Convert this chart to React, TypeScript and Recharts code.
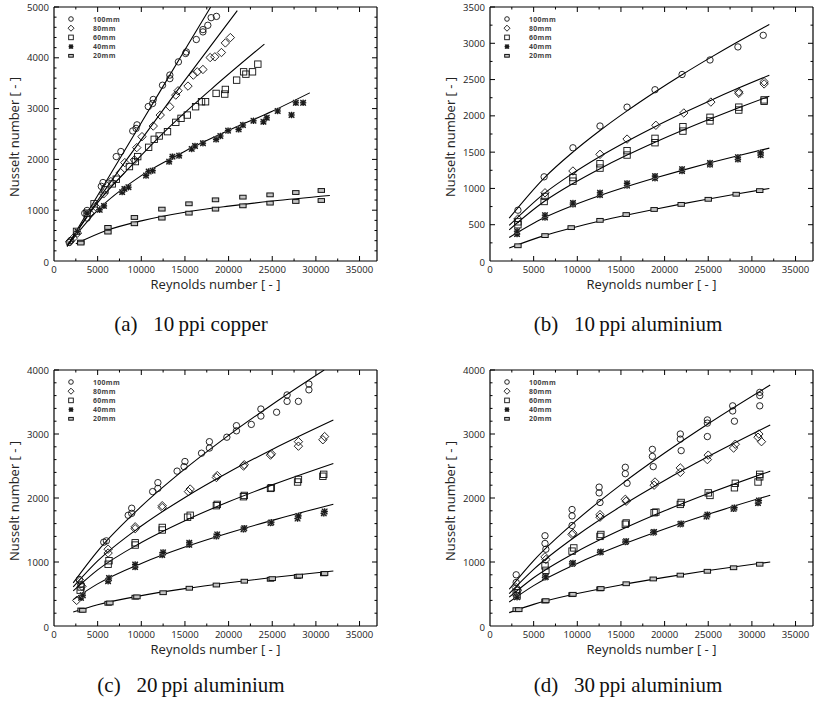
import React from 'react';
import { ComposedChart, Scatter, Line, XAxis, YAxis, Legend } from 'recharts';

type P = [number, number];

// ---------- shared ----------
const seriesNames = ['100mm', '80mm', '60mm', '40mm', '20mm'];
const markerKinds = ['circle', 'diamond', 'square', 'cross', 'rect'];
const captions = ['(a)\u2002 10\u2009ppi copper', '(b)\u2002 10\u2009ppi aluminium', '(c)\u2002 20\u2009ppi aluminium', '(d)\u2002 30\u2009ppi aluminium'];
const xTitle = 'Reynolds number [ - ]';
const yTitle = 'Nusselt number [ - ]';
const xMajorTicks = [0, 5000, 10000, 15000, 20000, 25000, 30000, 35000];
const xAllTicks = [0, 2500, 5000, 7500, 10000, 12500, 15000, 17500, 20000, 22500, 25000, 27500, 30000, 32500, 35000];

// ---------- (a) 10 ppi copper ----------
const a100: P[] = [[1740,365],[1930,405],[3520,940],[3790,995],[3790,845],[5420,1470],[5610,1545],[7130,2055],[7660,2155],[9020,2560],[9400,2610],[9510,2680],[10800,3040],[11290,3100],[11370,3180],[12430,3460],[13270,3590],[13270,3660],[14250,3920],[15080,4085],[15160,4115],[16300,4360],[17060,4510],[17060,4555],[17620,4640],[18000,4790],[18610,4815]];
const a80: P[] = [[1820,386],[2200,450],[2690,550],[4090,942],[4740,1073],[5690,1322],[6520,1564],[7620,1741],[8110,1937],[9210,1990],[9480,2232],[10080,2448],[11370,2657],[12170,2873],[13270,3037],[13950,3266],[14210,3351],[15350,3443],[15960,3659],[16410,3724],[17060,3770],[17890,4005],[18420,4019],[19180,4104],[19630,4293],[20200,4398]];
const a60: P[] = [[2580,583],[3790,942],[4590,1126],[5840,1401],[6670,1518],[7130,1610],[8640,1859],[9320,1957],[9590,2055],[10840,2238],[11480,2395],[12050,2461],[13000,2546],[13950,2729],[14550,2808],[15270,2873],[16220,3037],[16900,3135],[17360,3135],[18570,3299],[19560,3286],[19630,3377],[20920,3560],[21720,3724],[21980,3678],[22740,3724],[23350,3875]];
const a40: P[] = [[2690,583],[3790,942],[5230,1008],[5720,1086],[7810,1355],[8070,1420],[8530,1453],[10540,1682],[10840,1761],[11290,1780],[13190,1957],[13570,2055],[14330,2075],[15770,2206],[16150,2265],[17060,2317],[18570,2395],[19060,2461],[19940,2566],[21150,2592],[21640,2677],[22850,2762],[23990,2742],[24370,2821],[25620,2952],[27210,2873],[27700,3115],[28540,3115]];
const a20: P[] = [[3070,373],[3070,353],[6180,661],[6180,569],[9210,857],[9210,733],[12360,1021],[12360,844],[15460,1126],[15460,942],[18500,1204],[18500,1021],[21640,1257],[21640,1086],[24750,1302],[24750,1139],[27700,1348],[27700,1172],[30620,1388],[30620,1191]];
const a100fit: P[] = [[1500,290],[5000,1290],[10000,2720],[15000,4160],[17950,5000]];
const a80fit: P[] = [[1500,290],[5000,1190],[10000,2390],[15000,3560],[21000,4930]];
const a60fit: P[] = [[1500,290],[5000,1150],[9000,1900],[13000,2600],[18000,3380],[24100,4270]];
const a40fit: P[] = [[1500,290],[5000,1000],[10000,1680],[15000,2160],[20000,2570],[25000,2950],[29300,3310]];
const a20fit: P[] = [[2500,340],[6000,600],[10000,790],[15000,960],[20000,1080],[25000,1180],[31600,1290]];

// ---------- (b) 10 ppi aluminium ----------
const b100: P[] = [[3200,700],[6200,1160],[9500,1560],[12600,1860],[15700,2120],[18900,2360],[22000,2570],[25200,2770],[28400,2950],[31300,3110]];
const b80: P[] = [[3200,580],[6300,940],[9500,1240],[12600,1470],[15700,1680],[19000,1870],[22200,2040],[25300,2190],[28500,2310],[28500,2330],[31400,2440],[31400,2470]];
const b60: P[] = [[3200,500],[3200,540],[6200,820],[6300,890],[9500,1100],[9500,1150],[12600,1280],[12600,1340],[15700,1460],[15700,1520],[18900,1630],[18900,1690],[22100,1790],[22100,1850],[25200,1930],[25200,1980],[28500,2080],[28500,2120],[31400,2200],[31400,2220]];
const b40: P[] = [[3100,370],[3100,410],[6300,600],[6300,630],[9500,780],[9500,800],[12600,910],[12600,940],[15700,1040],[15700,1070],[18900,1140],[18900,1170],[22000,1240],[22000,1265],[25200,1330],[25200,1350],[28400,1400],[28400,1430],[31000,1460],[31000,1490]];
const b20: P[] = [[3200,210],[6300,350],[9300,460],[12600,560],[15600,640],[18800,710],[21900,780],[25000,850],[28200,920],[30900,970]];
const b100fit: P[] = [[2200,590],[6200,1143],[9500,1501],[12600,1798],[15700,2069],[18900,2329],[22000,2567],[25200,2799],[28400,3021],[32000,3260]];
const b80fit: P[] = [[2200,490],[6200,929],[9500,1209],[12600,1440],[15700,1649],[18900,1850],[22000,2031],[25200,2209],[28400,2379],[32000,2560]];
const b60fit: P[] = [[2200,430],[6200,819],[9500,1067],[12600,1272],[15700,1459],[18900,1637],[22000,1799],[25200,1957],[28400,2108],[32000,2270]];
const b40fit: P[] = [[2200,325],[6200,596],[9500,765],[12600,902],[15700,1026],[18900,1143],[22000,1249],[25200,1353],[28400,1451],[32000,1555]];
const b20fit: P[] = [[2200,180],[6200,350],[9500,459],[12600,551],[15700,634],[18900,714],[22000,787],[25200,858],[28400,927],[32000,1000]];

// ---------- (c) 20 ppi aluminium ----------
const c100: P[] = [[2900,725],[3100,650],[5700,1310],[6000,1330],[8500,1730],[8900,1760],[8900,1840],[11300,2100],[11900,2150],[11900,2240],[14100,2420],[14900,2490],[15000,2570],[16900,2700],[17800,2780],[17800,2880],[19800,2950],[20900,3050],[20900,3130],[22600,3150],[23700,3280],[23700,3390],[25500,3340],[26700,3510],[26700,3610],[28000,3510],[29200,3690],[29200,3780]];
const c80: P[] = [[2600,400],[3000,710],[3200,620],[6200,1140],[6200,1200],[9300,1520],[9300,1550],[12400,1850],[12400,1880],[15400,2100],[15600,2140],[18600,2320],[18700,2350],[21700,2500],[21800,2520],[24800,2670],[24900,2690],[28000,2810],[28000,2880],[30800,2910],[31000,2960]];
const c60: P[] = [[3000,560],[3100,610],[6200,965],[6300,1020],[9300,1265],[9300,1300],[12400,1500],[12400,1540],[15300,1700],[15600,1730],[18600,1880],[18700,1900],[21700,2020],[21800,2040],[24800,2150],[24900,2160],[27900,2250],[28000,2290],[30800,2340],[30900,2370]];
const c40: P[] = [[3100,440],[3300,480],[6200,700],[6300,750],[9300,920],[9300,960],[12400,1110],[12500,1150],[15500,1270],[15500,1300],[18600,1400],[18700,1430],[21700,1510],[21800,1530],[24800,1610],[24900,1620],[27900,1680],[28000,1720],[30900,1760],[31000,1790]];
const c20: P[] = [[3100,250],[3300,245],[6200,355],[6400,360],[9300,450],[9500,455],[12500,520],[15500,590],[18600,640],[21800,700],[24800,730],[25000,740],[27900,775],[28100,780],[30900,815],[31000,820]];
const c100fit: P[] = [[2200,673],[5000,1170],[10000,1868],[15000,2454],[20000,2979],[25000,3462],[30950,4000]];
const c80fit: P[] = [[2200,610],[5000,1016],[10000,1562],[15000,2009],[20000,2402],[25000,2759],[32000,3218]];
const c60fit: P[] = [[2200,548],[5000,877],[10000,1305],[15000,1646],[20000,1941],[25000,2205],[32000,2540]];
const c40fit: P[] = [[2200,412],[5000,658],[10000,978],[15000,1233],[20000,1453],[25000,1650],[32000,1903]];
const c20fit: P[] = [[2200,219],[5000,333],[10000,475],[15000,584],[20000,676],[25000,758],[32000,860]];

// ---------- (d) 30 ppi aluminium ----------
const d100: P[] = [[3000,800],[3000,680],[3200,560],[6300,1410],[6300,1290],[6400,1200],[9400,1820],[9400,1720],[9400,1570],[12500,2170],[12500,2080],[12600,1930],[15500,2480],[15500,2380],[15700,2230],[18600,2760],[18600,2650],[18700,2490],[21800,3000],[21800,2920],[21900,2740],[24900,3220],[24900,3170],[24900,2960],[27800,3440],[27800,3360],[28000,3200],[30900,3650],[30900,3600],[30900,3440]];
const d80: P[] = [[3000,600],[3100,560],[6300,1080],[6400,1040],[9400,1430],[9500,1450],[12600,1700],[12600,1740],[15500,1980],[15600,1950],[18800,2200],[18900,2250],[21800,2400],[21800,2470],[24900,2600],[25000,2670],[27900,2780],[28100,2840],[30700,2950],[30800,3000],[31100,2880]];
const d60: P[] = [[3000,520],[3100,470],[6300,940],[6400,870],[9400,1170],[9600,1220],[12600,1400],[12700,1430],[15500,1590],[15600,1610],[18800,1770],[19000,1780],[21800,1900],[21900,1930],[25000,2080],[25200,2040],[28000,2160],[28100,2230],[30700,2250],[30900,2330],[30900,2370]];
const d40: P[] = [[3000,470],[3100,450],[6300,760],[6400,770],[9400,970],[9500,985],[12600,1150],[12700,1160],[15500,1310],[15600,1325],[18700,1460],[18800,1470],[21800,1590],[21900,1600],[24800,1710],[24900,1740],[27900,1830],[28000,1850],[30700,1920],[30800,1960]];
const d20: P[] = [[3000,255],[3300,255],[6300,390],[6400,395],[9400,490],[9500,495],[12600,580],[12700,585],[15600,660],[18700,735],[21800,795],[24900,855],[27900,910],[30900,965]];
const d100fit: P[] = [[2200,574],[5000,1022],[10000,1661],[15000,2209],[20000,2702],[25000,3160],[32100,3765]];
const d80fit: P[] = [[2200,506],[5000,885],[10000,1419],[15000,1870],[20000,2274],[25000,2647],[32100,3139]];
const d60fit: P[] = [[2200,450],[5000,754],[10000,1165],[15000,1502],[20000,1800],[25000,2070],[32100,2420]];
const d40fit: P[] = [[2200,375],[5000,631],[10000,978],[15000,1264],[20000,1516],[25000,1746],[32100,2044]];
const d20fit: P[] = [[2200,209],[5000,338],[10000,507],[15000,642],[20000,760],[25000,866],[32100,1001]];

// ---------- helpers ----------
const toRows = (arr: P[]) => arr.map(([re, nu]) => ({ re, nu }));
const range = (max: number, step: number) => {
  const out: number[] = [];
  for (let v = 0; v <= max + 1e-6; v += step) out.push(v);
  return out;
};

const TICK_FONT = "'Open Sans', 'DejaVu Sans', sans-serif";
const INK = '#111';

function Marker({ kind, cx, cy, s = 1 }: { kind: string; cx: number; cy: number; s?: number }) {
  if (cx == null || cy == null || isNaN(cx) || isNaN(cy)) return null;
  switch (kind) {
    case 'circle':
      return <circle cx={cx} cy={cy} r={3.2 * s} fill="none" stroke={INK} strokeWidth={0.9} />;
    case 'diamond': {
      const d = 4.2 * s;
      return <path d={`M${cx},${cy - d}L${cx + d},${cy}L${cx},${cy + d}L${cx - d},${cy}Z`} fill="none" stroke={INK} strokeWidth={0.9} />;
    }
    case 'square': {
      const h = 3.2 * s;
      return <rect x={cx - h} y={cy - h} width={2 * h} height={2 * h} fill="none" stroke={INK} strokeWidth={0.9} />;
    }
    case 'cross': {
      const h = 2.8 * s;
      return (
        <g>
          <rect x={cx - h} y={cy - h} width={2 * h} height={2 * h} rx={1.2 * s} fill="#8a8a8a" stroke="none" />
          <path d={`M${cx - h},${cy - h}L${cx + h},${cy + h}M${cx + h},${cy - h}L${cx - h},${cy + h}M${cx},${cy - h - 0.4}L${cx},${cy + h + 0.4}M${cx - h - 0.4},${cy}L${cx + h + 0.4},${cy}`}
            stroke="#1a1a1a" strokeWidth={1.1} fill="none" />
        </g>
      );
    }
    default: {
      const w = 3.2 * s;
      const h = 1.9 * s;
      return <rect x={cx - w} y={cy - h} width={2 * w} height={2 * h} fill="#c4c4c4" stroke={INK} strokeWidth={1} />;
    }
  }
}

type PanelCfg = {
  left: number; top: number; width: number; height: number; marginRight: number;
  plotH: number; yMax: number; yMajor: number; yMinor: number;
  series: { pts: P[]; fit: P[] }[];
};

function Panel({ cfg }: { cfg: PanelCfg }) {
  const { left, top, width, height, marginRight, yMax, yMajor, yMinor, series } = cfg;
  const yTicks = range(yMax, yMinor);
  const isYMajor = (v: number) => Math.abs(v / yMajor - Math.round(v / yMajor)) < 1e-6;
  const isXMajor = (v: number) => xMajorTicks.includes(v);
  const axisLine = { stroke: '#000', strokeWidth: 1.2 };

  const bottomTick = (p: any) => {
    const { x, y, payload } = p;
    const v = payload.value;
    const ay = y - 4;
    const maj = isXMajor(v);
    return (
      <g>
        {v !== 0 && <line x1={x} y1={ay} x2={x} y2={ay - (maj ? 5 : 2.5)} stroke="#000" strokeWidth={1} />}
        {maj && (
          <text x={x} y={ay + 11.5} textAnchor="middle" fontFamily={TICK_FONT} fontSize={9.6} fill="#222">{v}</text>
        )}
      </g>
    );
  };
  const topTick = (p: any) => {
    const { x, y, payload } = p;
    const v = payload.value;
    if (v === 0) return <g />;
    return <line x1={x} y1={y} x2={x} y2={y + (isXMajor(v) ? 5 : 2.5)} stroke="#000" strokeWidth={1} />;
  };
  const leftTick = (p: any) => {
    const { x, y, payload } = p;
    const v = payload.value;
    const ax = x + 4;
    const maj = isYMajor(v);
    return (
      <g>
        {v !== 0 && <line x1={ax} y1={y} x2={ax + (maj ? 5 : 2.5)} y2={y} stroke="#000" strokeWidth={1} />}
        {maj && (
          <text x={x - 1} y={y + 3.5 + (v === 0 ? 1 : 0)} textAnchor="end" fontFamily={TICK_FONT} fontSize={9.6} fill="#222">{v}</text>
        )}
      </g>
    );
  };
  const rightTick = (p: any) => {
    const { x, y, payload } = p;
    const v = payload.value;
    if (v === 0 || v >= yMax) return <g />;
    return <line x1={x} y1={y} x2={x - (isYMajor(v) ? 5 : 2.5)} y2={y} stroke="#000" strokeWidth={1} />;
  };
  const xTitleRender = (p: any) => {
    const vb = p.viewBox || {};
    return (
      <text x={vb.x + vb.width / 2} y={vb.y + 28} textAnchor="middle" fontFamily={TICK_FONT} fontSize={13} fill="#222">{xTitle}</text>
    );
  };
  const yTitleRender = (p: any) => {
    const vb = p.viewBox || {};
    const cx = vb.x + 19;
    const cy = vb.y + vb.height / 2 + 3;
    return (
      <text x={cx} y={cy} transform={`rotate(-90 ${cx} ${cy})`} textAnchor="middle" fontFamily={TICK_FONT} fontSize={13} fill="#222">{yTitle}</text>
    );
  };
  const legendContent = () => (
    <svg width={80} height={52} style={{ display: 'block' }}>
      {seriesNames.map((n, i) => (
        <g key={n}>
          <Marker kind={markerKinds[i]} cx={7} cy={5 + 9.2 * i} s={0.72} />
          <text x={29} y={5 + 9.2 * i + 2.6} fontFamily={TICK_FONT} fontSize={6.9} fontWeight={700} letterSpacing={0.35} fill="#444">{n}</text>
        </g>
      ))}
    </svg>
  );

  return (
    <div style={{ position: 'absolute', left, top }}>
      <ComposedChart width={width} height={height} margin={{ top: 6, right: marginRight, bottom: 5, left: 0 }}>
        <XAxis xAxisId="b" orientation="bottom" type="number" dataKey="re" domain={[0, 37000]} allowDataOverflow
          ticks={xAllTicks} interval={0} tickSize={0} tickMargin={4} tickLine={false} axisLine={axisLine} height={34}
          tick={bottomTick} label={xTitleRender} />
        <XAxis xAxisId="t" orientation="top" type="number" dataKey="re" domain={[0, 37000]} allowDataOverflow
          ticks={xAllTicks} interval={0} tickSize={0} tickMargin={0} tickLine={false} axisLine={axisLine} height={1}
          tick={topTick} />
        <YAxis yAxisId="l" orientation="left" type="number" dataKey="nu" domain={[0, yMax]} allowDataOverflow
          ticks={yTicks} interval={0} tickSize={0} tickMargin={4} tickLine={false} axisLine={axisLine} width={54}
          tick={leftTick} label={yTitleRender} />
        <YAxis yAxisId="r" orientation="right" type="number" dataKey="nu" domain={[0, yMax]} allowDataOverflow
          ticks={yTicks} interval={0} tickSize={0} tickMargin={0} tickLine={false} axisLine={axisLine} width={1}
          tick={rightTick} />
        {series.map((s, i) => (
          <Line key={'f' + i} xAxisId="b" yAxisId="l" data={toRows(s.fit)} dataKey="nu" type="monotone"
            stroke="#000" strokeWidth={1.1} dot={false} activeDot={false} isAnimationActive={false} legendType="none" />
        ))}
        {series.map((s, i) => (
          <Scatter key={'s' + i} name={seriesNames[i]} xAxisId="b" yAxisId="l" data={toRows(s.pts)} dataKey="nu"
            isAnimationActive={false}
            shape={(p: any) => <Marker kind={markerKinds[i]} cx={p.cx} cy={p.cy} />} />
        ))}
        <Legend content={legendContent} layout="vertical" align="center" verticalAlign="middle"
          wrapperStyle={{ left: 64, top: 14, width: 80, height: 52 }} />
      </ComposedChart>
    </div>
  );
}

const panels: PanelCfg[] = [
  { left: 0, top: 0, width: 400, height: 300, marginRight: 22, plotH: 254, yMax: 5000, yMajor: 1000, yMinor: 200,
    series: [{ pts: a100, fit: a100fit }, { pts: a80, fit: a80fit }, { pts: a60, fit: a60fit }, { pts: a40, fit: a40fit }, { pts: a20, fit: a20fit }] },
  { left: 436, top: 0, width: 378, height: 300, marginRight: 0, plotH: 254, yMax: 3500, yMajor: 500, yMinor: 250,
    series: [{ pts: b100, fit: b100fit }, { pts: b80, fit: b80fit }, { pts: b60, fit: b60fit }, { pts: b40, fit: b40fit }, { pts: b20, fit: b20fit }] },
  { left: 0, top: 363, width: 400, height: 302, marginRight: 22, plotH: 256, yMax: 4000, yMajor: 1000, yMinor: 200,
    series: [{ pts: c100, fit: c100fit }, { pts: c80, fit: c80fit }, { pts: c60, fit: c60fit }, { pts: c40, fit: c40fit }, { pts: c20, fit: c20fit }] },
  { left: 436, top: 363, width: 378, height: 302, marginRight: 0, plotH: 256, yMax: 4000, yMajor: 1000, yMinor: 200,
    series: [{ pts: d100, fit: d100fit }, { pts: d80, fit: d80fit }, { pts: d60, fit: d60fit }, { pts: d40, fit: d40fit }, { pts: d20, fit: d20fit }] },
];

const captionPos = [[191, 331], [628, 331], [191, 692], [628, 692]];

export default function App() {
  return (
    <div style={{ position: 'absolute', left: 0, top: 0, width: 814, height: 704, overflow: 'hidden', background: '#fff' }}>
      {panels.map((cfg, i) => <Panel key={i} cfg={cfg} />)}
      <svg width={814} height={704} style={{ position: 'absolute', left: 0, top: 0, pointerEvents: 'none' }}>
        {captions.map((c, i) => (
          <text key={i} x={captionPos[i][0]} y={captionPos[i][1]} textAnchor="middle"
            fontFamily="'Liberation Serif', 'DejaVu Serif', serif" fontSize={21} fill="#111">{c}</text>
        ))}
      </svg>
    </div>
  );
}
